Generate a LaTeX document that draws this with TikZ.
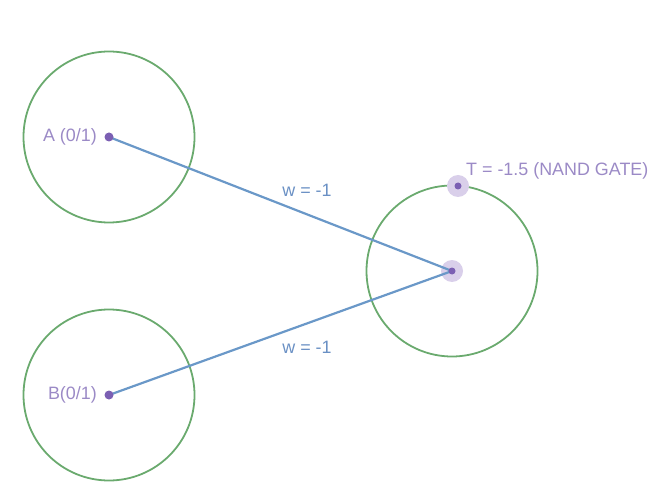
\documentclass[tikz,border=0pt]{standalone}
\usepackage{fontspec}
\setmainfont{Liberation Sans}
\definecolor{ringgreen}{HTML}{6AAA6E}
\definecolor{dotpurple}{HTML}{7B5FB3}
\definecolor{labelpurple}{HTML}{9B8AC6}
\definecolor{edgeblue}{HTML}{6A98C8}
\definecolor{wblue}{HTML}{6A90C4}
\definecolor{halo}{HTML}{D9CFEA}
\tikzset{
  ring/.style={circle, draw=ringgreen, line width=1.8pt, minimum size=171pt, inner sep=0pt},
  dotnode/.style={circle, fill=dotpurple, minimum size=9pt, inner sep=0pt},
  halonode/.style={circle, fill=halo, minimum size=22pt, inner sep=0pt},
  lbl/.style={font=\fontsize{17.9}{20}\selectfont, inner sep=0pt},
  edge/.style={draw=edgeblue, line width=2.2pt},
}
\begin{document}
\begin{tikzpicture}[x=1pt,y=-1pt]
\useasboundingbox (0,0) rectangle (660,502);
\node[ring] (ringA) at (109,137) {};
\node[ring] (ringB) at (109,395) {};
\node[ring] (ringC) at (452,271) {};
\node[halonode] (haloC) at (452,271) {};
\node[halonode] (haloT) at (458,186) {};
\coordinate (cA) at (109,137);
\coordinate (cB) at (109,395);
\coordinate (cC) at (452,271);
\draw[edge] (cA) -- (cC);
\draw[edge] (cB) -- (cC);
\node[dotnode] (dA) at (109,137) {};
\node[dotnode] (dB) at (109,395) {};
\node[dotnode, minimum size=7pt] (dC) at (452,271) {};
\node[dotnode, minimum size=7pt] (dT) at (458,186) {};
\node[lbl, text=labelpurple, anchor=east] (lA) at (97,137) {A (0/1)};
\node[lbl, text=labelpurple, anchor=east] (lB) at (97,395) {B(0/1)};
\node[lbl, text=labelpurple, anchor=west] (lT) at (466,171) {T = -1.5 (NAND GATE)};
\node[lbl, text=wblue] (w1) at (307,190) {w = -1};
\node[lbl, text=wblue] (w2) at (307,347) {w = -1};
\end{tikzpicture}
\end{document}
